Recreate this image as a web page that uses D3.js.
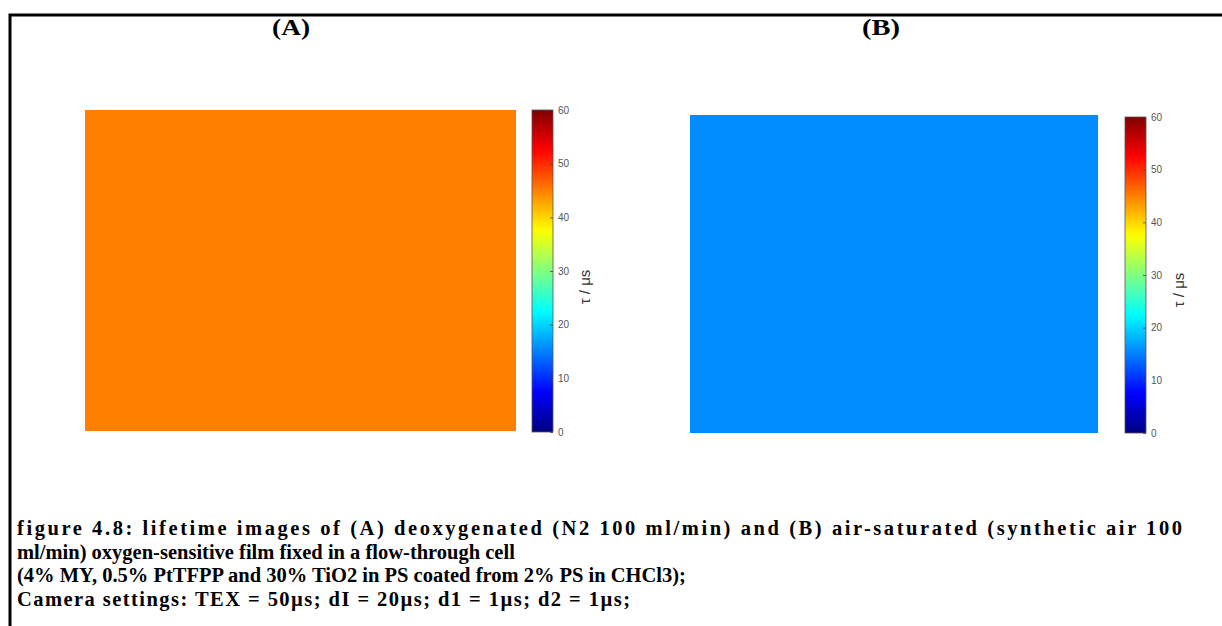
<!DOCTYPE html>
<html>
<head>
<meta charset="utf-8">
<script src="https://cdn.jsdelivr.net/npm/d3@7"></script>
<style>
  html, body { margin: 0; padding: 0; background: #fff; }
  svg { display: block; }
</style>
</head>
<body>
<svg id="fig" width="1222" height="626"></svg>
<script>
// Panel titles and colour-bar ticks (lifetime tau in microseconds)
const panelTitles = ["(A)", "(B)"];
const colorTicks = [0, 10, 20, 30, 40, 50, 60];
const colorDomain = [0, 60];
const colorLabel = "τ / μs";

// Lifetime maps (μs), coarse grid of the film area
const lifetimeA = [
  [45.0, 45.0, 45.0, 45.0, 45.0],
  [45.0, 45.0, 45.0, 45.0, 45.0],
  [45.0, 45.0, 45.0, 45.0, 45.0],
  [45.0, 45.0, 45.0, 45.0, 45.0]
];
const lifetimeB = [
  [15.7, 15.7, 15.7, 15.7, 15.7],
  [15.7, 15.7, 15.7, 15.7, 15.7],
  [15.7, 15.7, 15.7, 15.7, 15.7],
  [15.7, 15.7, 15.7, 15.7, 15.7]
];

// Caption lines
const captionLines = [
  "figure 4.8: lifetime images of (A) deoxygenated (N2 100 ml/min) and (B) air-saturated (synthetic air 100",
  "ml/min) oxygen-sensitive film fixed in a flow-through cell",
  "(4% MY, 0.5% PtTFPP and 30% TiO2 in PS coated from 2% PS in CHCl3);",
  "Camera settings: TEX = 50µs; dI = 20µs; d1 = 1µs; d2 = 1µs;"
];

// MATLAB-style jet colormap
function jet(t) {
  const c = v => Math.max(0, Math.min(1, v));
  const r = c(1.5 - Math.abs(4 * t - 3));
  const g = c(1.5 - Math.abs(4 * t - 2));
  const b = c(1.5 - Math.abs(4 * t - 1));
  return d3.rgb(r * 255, g * 255, b * 255).formatHex();
}
const norm = d3.scaleLinear().domain(colorDomain).range([0, 1]).clamp(true);
const colorOf = v => jet(norm(v));

const serif = "'Liberation Serif', 'Times New Roman', serif";
const sans = "Arial, 'Liberation Sans', sans-serif";

const svg = d3.select("#fig");

// Page frame
svg.append("path")
  .attr("d", "M10,626 L10,15 L1222,15")
  .attr("fill", "none").attr("stroke", "#000").attr("stroke-width", 3);

// Gradient shared by both colour bars
const defs = svg.append("defs");
const grad = defs.append("linearGradient").attr("id", "jetGrad")
  .attr("x1", 0).attr("y1", 1).attr("x2", 0).attr("y2", 0);
d3.range(0, 61, 1).forEach(v => {
  grad.append("stop").attr("offset", norm(v)).attr("stop-color", colorOf(v));
});

const panels = [
  { title: panelTitles[0], titleX: 291, data: lifetimeA,
    img: { x0: 85, x1: 515, y0: 110, y1: 430 },
    bar: { x0: 532, x1: 553, y0: 110, y1: 432 }, labelX: 586, labelY: 287 },
  { title: panelTitles[1], titleX: 881, data: lifetimeB,
    img: { x0: 690, x1: 1097, y0: 115, y1: 432 },
    bar: { x0: 1125, x1: 1146, y0: 117, y1: 433 }, labelX: 1180, labelY: 290 }
];

panels.forEach(p => {
  const g = svg.append("g");

  // Title, widened to the page's type proportions
  const tg = g.append("g");
  const tt = tg.append("text")
    .attr("x", 0).attr("y", 0)
    .attr("text-anchor", "middle")
    .attr("font-family", serif)
    .attr("font-weight", "bold").attr("font-size", 24)
    .text(p.title);
  const tw = tt.node().getComputedTextLength();
  tg.attr("transform", `translate(${p.titleX},35) scale(${38 / tw},1)`);

  // Lifetime image as a grid of cells
  const nRows = p.data.length, nCols = p.data[0].length;
  const xs = d3.scaleBand().domain(d3.range(nCols)).range([p.img.x0, p.img.x1]);
  const ys = d3.scaleBand().domain(d3.range(nRows)).range([p.img.y0, p.img.y1]);
  const cells = [];
  p.data.forEach((row, i) => row.forEach((v, j) => cells.push({ i, j, v })));
  g.append("g").attr("shape-rendering", "crispEdges")
    .selectAll("rect").data(cells).join("rect")
    .attr("x", d => xs(d.j)).attr("y", d => ys(d.i))
    .attr("width", xs.bandwidth() + 0.5).attr("height", ys.bandwidth() + 0.5)
    .attr("fill", d => colorOf(d.v));

  // Colour bar
  const yBar = d3.scaleLinear().domain(colorDomain).range([p.bar.y1, p.bar.y0]);
  g.append("rect")
    .attr("x", p.bar.x0).attr("y", p.bar.y0)
    .attr("width", p.bar.x1 - p.bar.x0).attr("height", p.bar.y1 - p.bar.y0)
    .attr("fill", "url(#jetGrad)")
    .attr("stroke", "#555").attr("stroke-width", 0.8);

  const axis = d3.axisRight(yBar).tickValues(colorTicks)
    .tickSizeInner(-3).tickSizeOuter(0).tickPadding(5);
  const ag = g.append("g")
    .attr("transform", `translate(${p.bar.x1},0)`)
    .call(axis);
  ag.select(".domain").remove();
  ag.selectAll(".tick line").attr("stroke", "#444").attr("stroke-width", 0.8);
  ag.selectAll(".tick text")
    .attr("fill", "#555")
    .attr("font-family", sans)
    .attr("font-size", 10);

  g.append("text")
    .attr("transform", `translate(${p.labelX},${p.labelY}) rotate(-90)`)
    .attr("text-anchor", "middle").attr("dominant-baseline", "middle")
    .attr("fill", "#333")
    .attr("font-family", sans)
    .attr("font-size", 15)
    .text(colorLabel);
});

// Caption: first line spread to the full text width, last line set wider
const capLeft = 17, capTop = 535, capStep = 23.5;
const lineWidths = [1165, null, null, 613];
svg.append("g").selectAll("text").data(captionLines).join("text")
  .attr("x", capLeft).attr("y", (d, i) => capTop + i * capStep)
  .attr("font-family", serif)
  .attr("font-weight", "bold").attr("font-size", 20.5)
  .text(d => d)
  .each(function (d, i) {
    if (lineWidths[i]) {
      d3.select(this).attr("textLength", lineWidths[i]).attr("lengthAdjust", "spacing");
    }
  });
</script>
</body>
</html>
